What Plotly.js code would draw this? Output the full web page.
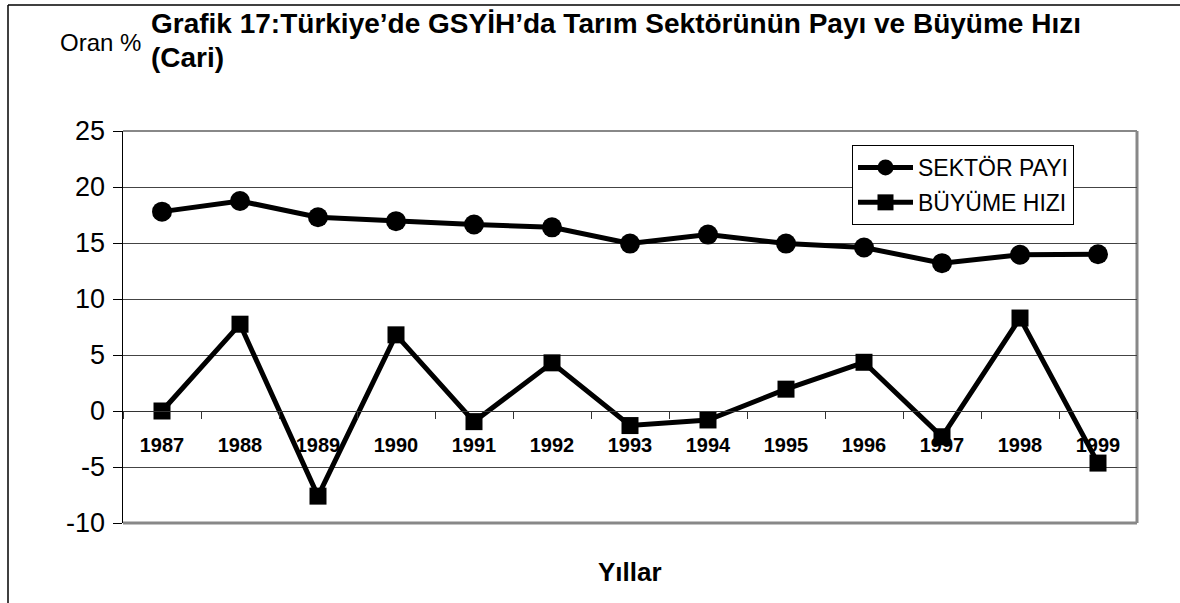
<!DOCTYPE html>
<html>
<head>
<meta charset="utf-8">
<script src="https://cdn.plot.ly/plotly-3.0.1.min.js"></script>
<style>html,body{margin:0;padding:0;background:#fff;}#chart{width:1180px;height:603px;}</style>
</head>
<body>
<div id="chart"></div>
<script>
const years = ["1987","1988","1989","1990","1991","1992","1993","1994","1995","1996","1997","1998","1999"];
const sektorPayi = [17.8, 18.75, 17.3, 16.95, 16.65, 16.4, 14.95, 15.75, 14.95, 14.6, 13.2, 13.95, 14.0];
const buyumeHizi = [0.0, 7.75, -7.6, 6.8, -0.95, 4.3, -1.3, -0.8, 1.95, 4.35, -2.3, 8.3, -4.65];
const seriesNames = ["SEKTÖR PAYI", "BÜYÜME HIZI"];
const yTicks = [-10, -5, 0, 5, 10, 15, 20, 25];
const yTickText = ["-10", "-5", "0", "5", "10", "15", "20", "25"];

const FONT = "Liberation Sans, Arial, sans-serif";
const W = 1180, H = 603, L = 123, R = 43, T = 131, B = 80;
const pw = W - L - R, ph = H - T - B;
const px = x => (x - L) / pw;
const py = y => (H - B - y) / ph;

const traces = [
  {
    x: years, y: sektorPayi, name: seriesNames[0], type: "scatter", mode: "lines+markers",
    line: {color: "#000", width: 5}, marker: {symbol: "circle", size: 20, color: "#000"},
    legendgroup: "a", cliponaxis: false
  },
  {
    x: years, y: buyumeHizi, name: seriesNames[1], type: "scatter", mode: "lines+markers",
    line: {color: "#000", width: 5}, marker: {symbol: "square", size: 17, color: "#000"},
    legendgroup: "b", cliponaxis: false
  }
];

const layout = {
  width: W, height: H,
  margin: {l: L, r: R, t: T, b: B, pad: 0},
  paper_bgcolor: "#fff", plot_bgcolor: "#fff",
  font: {family: FONT, color: "#000"},
  showlegend: true,
  legend: {
    x: px(852), y: py(145), xanchor: "left", yanchor: "top",
    bgcolor: "#fff", bordercolor: "#000", borderwidth: 1,
    font: {family: FONT, size: 23, color: "#000"},
    itemwidth: 55,
    tracegroupgap: 2
  },
  xaxis: {
    type: "category", categoryarray: years, range: [-0.5, 12.5],
    anchor: "free", position: 10 / 35,
    showline: true, linecolor: "#333", linewidth: 1,
    ticks: "outside", ticklen: 7, tickcolor: "#333", tickson: "boundaries",
    showgrid: false, zeroline: false,
    tickfont: {family: FONT, size: 20, color: "#000", weight: "bold"},
    ticklabelstandoff: 16
  },
  yaxis: {
    range: [-10, 25], tickvals: yTicks, ticktext: yTickText, domain: [0, 1],
    showline: true, linecolor: "#000", linewidth: 1.5,
    ticks: "outside", ticklen: 9, tickcolor: "#000",
    showgrid: true, gridcolor: "#444", gridwidth: 1, zeroline: false,
    tickfont: {family: FONT, size: 27, color: "#000"},
    ticklabelstandoff: 2
  },
  shapes: [
    {type: "line", xref: "paper", yref: "paper", x0: 0, x1: 1, y0: 1, y1: 1, line: {color: "#888", width: 2}, layer: "below"},
    {type: "line", xref: "paper", yref: "paper", x0: 1, x1: 1, y0: 0, y1: 1, line: {color: "#888", width: 3}, layer: "below"},
    {type: "line", xref: "paper", yref: "paper", x0: 0, x1: 1, y0: 0, y1: 0, line: {color: "#888", width: 3}, layer: "below"},
    {type: "line", xref: "paper", yref: "paper", x0: px(8), x1: px(1180), y0: py(5), y1: py(5), line: {color: "#000", width: 1.5}},
    {type: "line", xref: "paper", yref: "paper", x0: px(8), x1: px(8), y0: py(5), y1: py(603), line: {color: "#000", width: 1.5}}
  ],
  annotations: [
    {xref: "paper", yref: "paper", x: px(149), y: py(23), xanchor: "left", yanchor: "middle", showarrow: false,
     text: "Grafik 17:Türkiye’de GSYİH’da Tarım Sektörünün Payı ve Büyüme Hızı",
     font: {family: FONT, size: 28, color: "#000", weight: "bold"}},
    {xref: "paper", yref: "paper", x: px(149), y: py(58), xanchor: "left", yanchor: "middle", showarrow: false,
     text: "(Cari)", font: {family: FONT, size: 28, color: "#000", weight: "bold"}},
    {xref: "paper", yref: "paper", x: px(58), y: py(43), xanchor: "left", yanchor: "middle", showarrow: false,
     text: "Oran %", font: {family: FONT, size: 24, color: "#000"}},
    {xref: "paper", yref: "paper", x: px(630), y: py(572), xanchor: "center", yanchor: "middle", showarrow: false,
     text: "Yıllar", font: {family: FONT, size: 26, color: "#000", weight: "bold"}}
  ]
};

Plotly.newPlot("chart", traces, layout, {displayModeBar: false, staticPlot: true});
</script>
</body>
</html>
